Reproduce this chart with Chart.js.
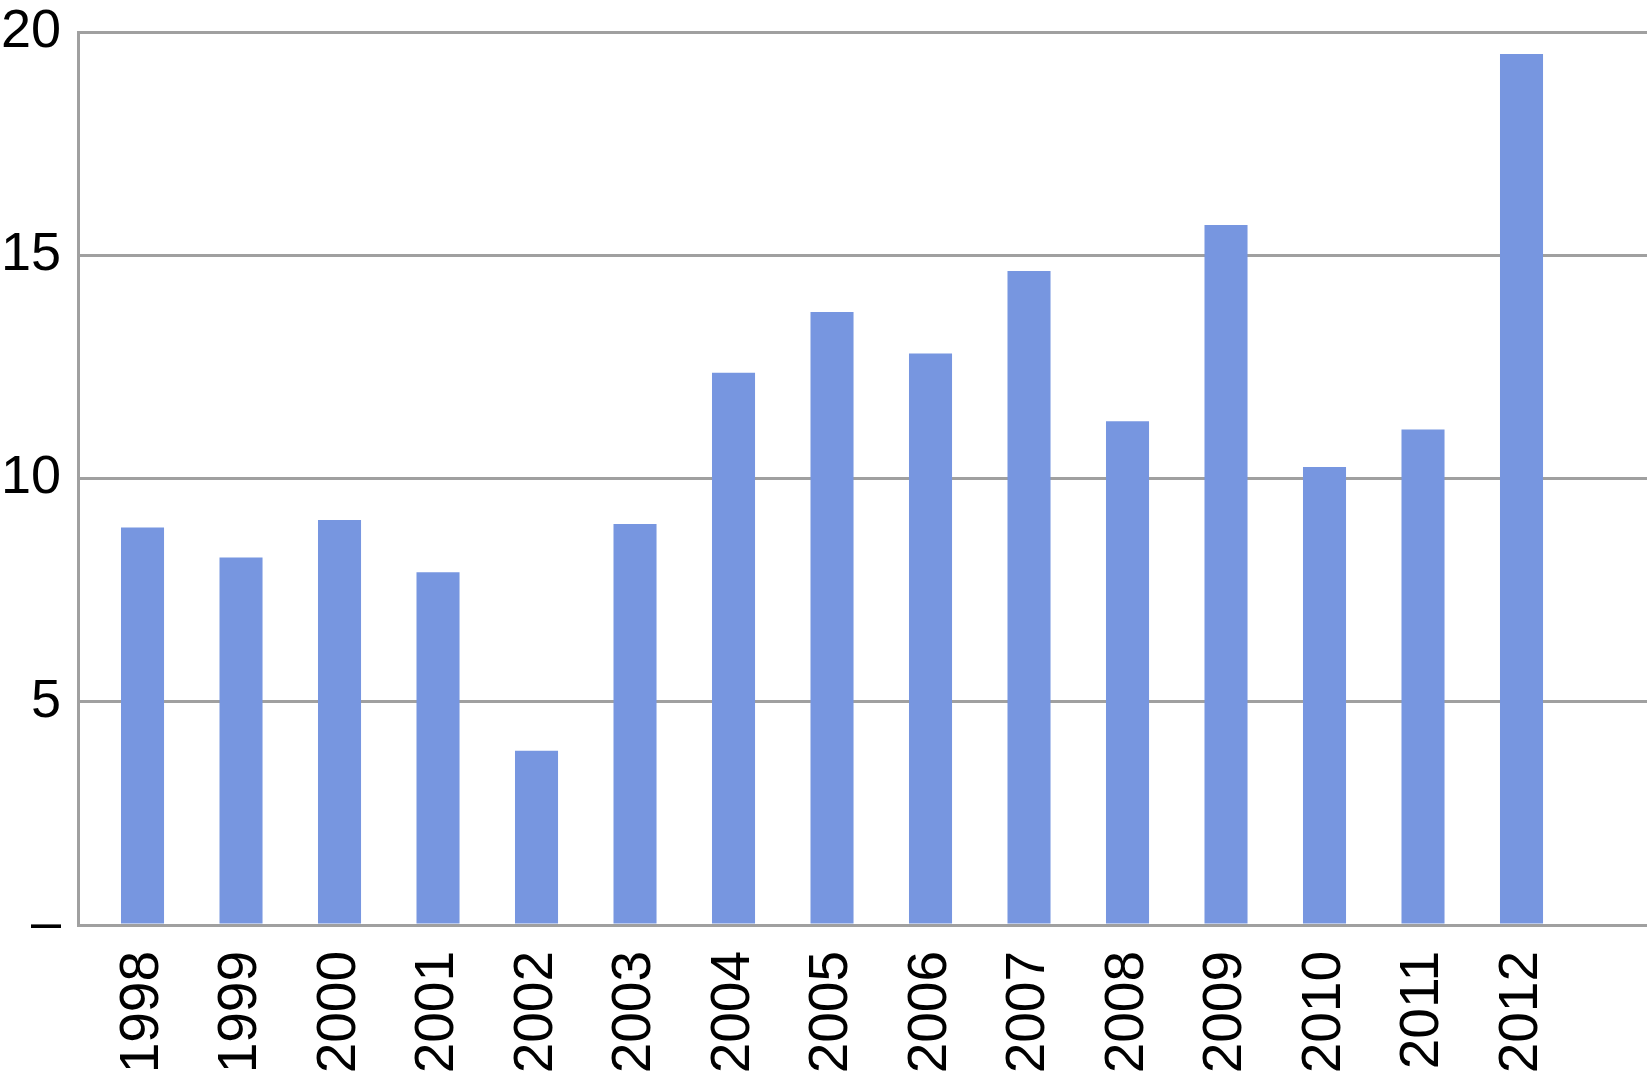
<!DOCTYPE html>
<html>
<head>
<meta charset="utf-8">
<script src="https://cdn.jsdelivr.net/npm/chart.js@4"></script>
<style>
  html, body { margin: 0; padding: 0; background: #fff; }
  #wrap { width: 1647px; height: 1073px; position: relative; }
</style>
</head>
<body>
<div id="wrap"><canvas id="chart"></canvas></div>
<script>
// values
const years = [1998, 1999, 2000, 2001, 2002, 2003, 2004, 2005, 2006, 2007, 2008, 2009, 2010, 2011, 2012];
const values = [8.90, 8.23, 9.07, 7.90, 3.90, 8.98, 12.37, 13.73, 12.80, 14.65, 11.28, 15.68, 10.26, 11.10, 19.51];
const yTicks = [0, 5, 10, 15, 20];

const gridGrey = '#a0a0a0';
const barBlue = '#7796e0';

const points = years.map((yr, i) => ({ x: yr, y: values[i] }));

new Chart(document.getElementById('chart'), {
  type: 'bar',
  data: {
    datasets: [{
      data: points,
      backgroundColor: barBlue,
      borderWidth: 0,
      categoryPercentage: 1.0,
      barPercentage: 0.437,
    }]
  },
  options: {
    responsive: true,
    maintainAspectRatio: false,
    animation: false,
    layout: { padding: 0 },
    plugins: { legend: { display: false }, tooltip: { enabled: false } },
    scales: {
      x: {
        type: 'linear',
        offset: false,
        min: 1997.345,
        max: 2013.274,
        afterBuildTicks: s => { s.ticks = years.map(v => ({ value: v })); },
        afterFit: s => { s.height = 148; },
        grid: { display: false, drawTicks: false },
        border: { display: true, color: gridGrey, width: 3 },
        ticks: {
          autoSkip: false,
          minRotation: 90,
          maxRotation: 90,
          padding: 26,
          color: '#000',
          font: { family: 'Liberation Sans', size: 55 },
          callback: v => String(v),
        }
      },
      y: {
        min: 0,
        max: 20,
        afterBuildTicks: s => { s.ticks = yTicks.map(v => ({ value: v })); },
        afterFit: s => { s.width = 78; s.paddingTop = 32; s.paddingBottom = 0; },
        grid: { color: gridGrey, lineWidth: 3, drawTicks: false },
        border: { display: true, color: gridGrey, width: 3 },
        ticks: {
          padding: 17,
          color: '#000',
          font: { family: 'Liberation Sans', size: 54 },
          callback: v => v === 0 ? '–' : String(v),
        }
      }
    }
  }
});
</script>
</body>
</html>
